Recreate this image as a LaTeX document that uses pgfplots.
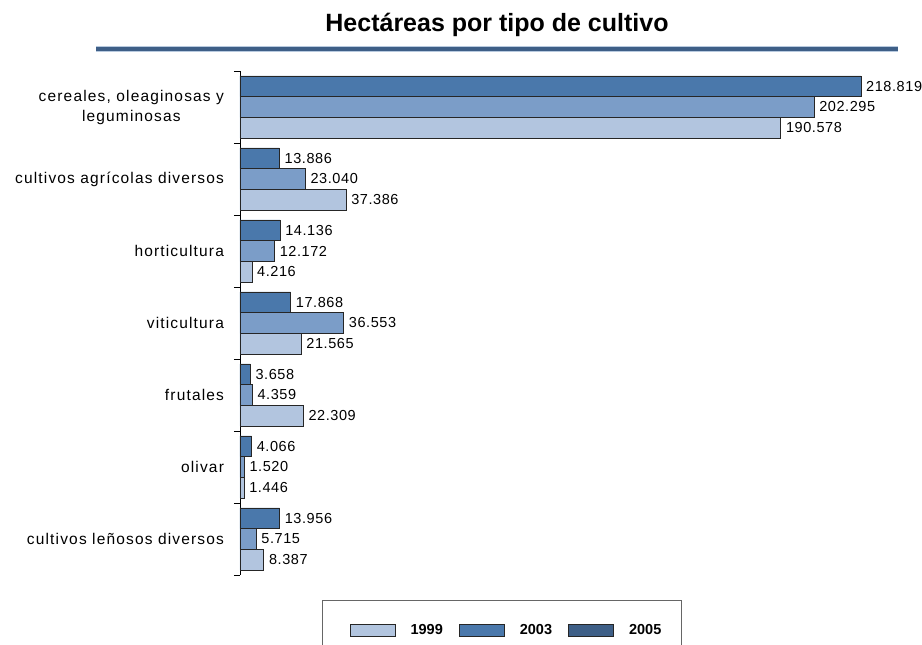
\documentclass[border=0pt]{standalone}
\usepackage{pgfplots}
\pgfplotsset{compat=1.18}
\usepackage{fontspec}
\setmainfont{Liberation Sans}
\newfontfamily\lblfont{Liberation Sans}[LetterSpace=7.5]
\newfontfamily\valfont{Liberation Sans}[LetterSpace=4]
\definecolor{cA}{HTML}{4A78AB}
\definecolor{cB}{HTML}{7B9DC8}
\definecolor{cC}{HTML}{B2C5DF}
\definecolor{cD}{HTML}{3E5F87}
\definecolor{rule}{HTML}{3E5F87}
\definecolor{rulel}{HTML}{B8CADF}
\begin{document}
\begin{tikzpicture}[x=1pt,y=1pt]
\path[use as bounding box] (0,0) rectangle (922,645);
\node[font=\fontsize{25}{28}\selectfont\bfseries] at (497,620) {Hectáreas por tipo de cultivo};
\fill[rulel] (96,592.5) rectangle (898,598.5);
\fill[rule] (96,593.5) rectangle (898,597.5);
\begin{axis}[
  at={(240pt,70pt)}, anchor=south west,
  scale only axis, width=652.7pt, height=504pt,
  xmin=0, xmax=230, ymin=-0.5, ymax=6.5,
  axis x line=none, axis y line*=left,
  axis line style={black, line width=0.8pt},
  clip=false,
  xbar, bar width=20.7pt,
  ytick={0,1,2,3,4,5,6},
  yticklabels={cultivos leñosos diversos, olivar, frutales, viticultura, horticultura, cultivos agrícolas diversos, {cereales, oleaginosas y\\leguminosas}},
  yticklabel style={font=\lblfont\fontsize{15.5}{20}\selectfont, align=center, xshift=-12.5pt, text=black},
  major tick length=0pt,
  minor ytick={-0.5,0.5,...,6.5},
  minor tick length=6pt,
  tick align=outside,
  minor tick style={black, line width=0.8pt},
  /pgf/number format/.cd, fixed, fixed zerofill, precision=3, 1000 sep={}, assume math mode=true,
  /pgfplots/.cd,
  nodes near coords,
  every node near coord/.append style={font=\valfont\fontsize{14.5}{17}\selectfont, anchor=west, xshift=1.5pt, text=black},
  legend style={at={(0.1256,-0.0496)}, anchor=north west, draw=black!60, line width=1.2pt,
     legend columns=3, font=\fontsize{14.5}{17}\selectfont\bfseries,
     inner xsep=18pt, inner ysep=22pt,
     /tikz/every odd column/.append style={column sep=13pt},
     /tikz/every even column/.append style={column sep=5pt}},
  legend image code/.code={\path (-9pt,0pt); \draw[#1, draw=black!85, line width=0.8pt] (0pt,-6pt) rectangle (45pt,6pt);},
]
\addplot[fill=cA, draw=black!85, line width=0.8pt, bar shift=20.7pt, forget plot] coordinates {
(13.956,0) (4.066,1) (3.658,2) (17.868,3) (14.136,4) (13.886,5) (218.819,6)};
\addplot[fill=cB, draw=black!85, line width=0.8pt, bar shift=0pt, forget plot] coordinates {
(5.715,0) (1.520,1) (4.359,2) (36.553,3) (12.172,4) (23.040,5) (202.295,6)};
\addplot[fill=cC, draw=black!85, line width=0.8pt, bar shift=-20.7pt, forget plot] coordinates {
(8.387,0) (1.446,1) (22.309,2) (21.565,3) (4.216,4) (37.386,5) (190.578,6)};
\addlegendimage{fill=cC}
\addlegendentry{1999}
\addlegendimage{fill=cA}
\addlegendentry{2003}
\addlegendimage{fill=cD}
\addlegendentry{2005}
\end{axis}
\end{tikzpicture}
\end{document}
